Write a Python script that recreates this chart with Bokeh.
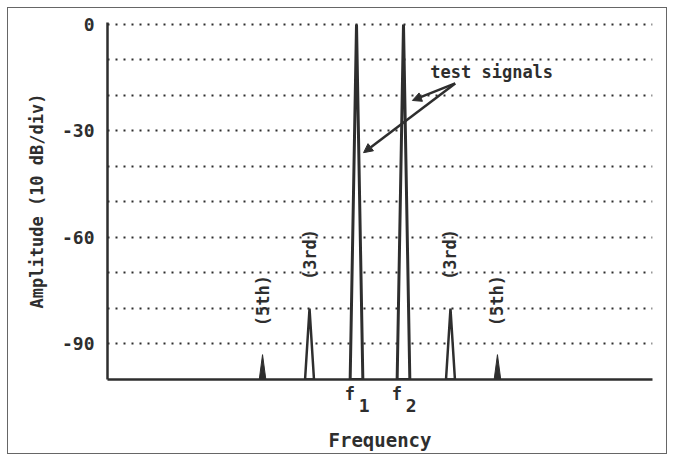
import math
from bokeh.plotting import figure
from bokeh.models import FixedTicker, Arrow, NormalHead, LinearAxis
from bokeh.core.properties import value
from bokeh.embed import file_html
from bokeh.resources import INLINE

# ---- data ----
# relative frequency positions: 3f1-2f2, 2f1-f2, f1, f2, 2f2-f1, 3f2-2f1
tone_freqs = [5, 6]
tone_amps = [0, 0]
tone_names = ["f", "f"]
tone_subs = ["1", "2"]

harm_freqs = [3, 4, 7, 8]
harm_amps = [-93, -80, -80, -93]
harm_labels = ["(5th)", "(3rd)", "(3rd)", "(5th)"]

ytick_vals = [0, -30, -60, -90]
ytick_labels = ["0", "-30", "-60", "-90"]
grid_vals = [0, -10, -20, -30, -40, -50, -60, -70, -80, -90]

note_text = "test signals"
note_pos = (6.57, -13.5)
arrow_tail = (7.1, -16.6)
arrow_heads_x = [6.19, 5.15]
arrow_heads_y = [-21.4, -36.1]

x_label = "Frequency"
y_label = "Amplitude (10 dB/div)"

FLOOR = -100
INK = "#2e2e2e"
FONT = "DejaVu Sans Mono"

p = figure(width=660, height=447, x_range=(-0.3, 11.3), y_range=(FLOOR, 0.56),
           output_backend="svg", toolbar_location=None,
           min_border_left=99, min_border_right=16, min_border_top=14, min_border_bottom=76)
p.outline_line_color = None
p.background_fill_color = "white"
p.border_fill_color = "white"
p.styles = {"border": "1px solid #666", "margin-left": "7px", "margin-top": "7px"}

# grid
p.xgrid.visible = False
p.ygrid.ticker = FixedTicker(ticks=grid_vals)
p.ygrid.grid_line_color = INK
p.ygrid.grid_line_width = 2
p.ygrid.grid_line_dash = "2 6"

# axes
for ax in (p.xaxis[0], p.yaxis[0]):
    ax.axis_line_color = INK
    ax.axis_line_width = 2.5
    ax.major_tick_line_color = None
    ax.minor_tick_line_color = None
    ax.major_tick_out = 0
    ax.major_tick_in = 0

p.yaxis.ticker = FixedTicker(ticks=ytick_vals)
p.yaxis.major_label_overrides = {v: s for v, s in zip(ytick_vals, ytick_labels)}
p.yaxis.major_label_text_font = FONT
p.yaxis.major_label_text_font_style = "bold"
p.yaxis.major_label_text_font_size = "18px"
p.yaxis.major_label_text_color = INK
p.yaxis.major_label_standoff = 13
p.yaxis.axis_label = y_label
p.yaxis.axis_label_text_font = FONT
p.yaxis.axis_label_text_font_style = "bold"
p.yaxis.axis_label_text_font_size = "17px"
p.yaxis.axis_label_text_color = INK
p.yaxis.axis_label_standoff = 12

# x axis: "f" labels on the first axis, subscripts on a second one below
f_ticks = [round(f - 0.14, 3) for f in tone_freqs]
s_ticks = [round(f + 0.165, 3) for f in tone_freqs]
xa = p.xaxis[0]
xa.ticker = FixedTicker(ticks=f_ticks)
xa.major_label_overrides = {t: n for t, n in zip(f_ticks, tone_names)}
xa.major_label_text_font = FONT
xa.major_label_text_font_style = "bold"
xa.major_label_text_font_size = "17px"
xa.major_label_text_color = INK
xa.major_label_standoff = 4

xb = LinearAxis(ticker=FixedTicker(ticks=s_ticks),
                major_label_overrides={t: s for t, s in zip(s_ticks, tone_subs)},
                axis_line_color=None, major_tick_line_color=None,
                minor_tick_line_color=None, major_tick_out=0, major_tick_in=0,
                major_label_text_font=FONT, major_label_text_font_style="bold",
                major_label_text_font_size="18px", major_label_text_color=INK,
                major_label_standoff=-8,
                axis_label=x_label, axis_label_text_font=FONT,
                axis_label_text_font_style="bold", axis_label_text_font_size="19px",
                axis_label_text_color=INK, axis_label_standoff=14)
p.add_layout(xb, "below")

# peaks as thin triangles
def tri(freqs, amps, hw):
    xs = [[f - hw, f, f + hw] for f in freqs]
    ys = [[FLOOR, a, FLOOR] for a in amps]
    return xs, ys

xs, ys = tri(tone_freqs, tone_amps, 0.135)
p.patches(xs, ys, fill_color="white", line_color=INK, line_width=3)
h3 = [(f, a) for f, a, l in zip(harm_freqs, harm_amps, harm_labels) if "3rd" in l]
h5 = [(f, a) for f, a, l in zip(harm_freqs, harm_amps, harm_labels) if "5th" in l]
xs, ys = tri([f for f, _ in h3], [a for _, a in h3], 0.095)
p.patches(xs, ys, fill_color="white", line_color=INK, line_width=2.5)
xs, ys = tri([f for f, _ in h5], [a for _, a in h5], 0.07)
p.patches(xs, ys, fill_color=INK, line_color=INK, line_width=1)

# harmonic labels (rotated)
p.text(x=harm_freqs, y=[a + 8 for a in harm_amps], text=harm_labels, angle=math.pi / 2,
       text_align="left", text_baseline="middle", text_font=value(FONT),
       text_font_style="bold", text_font_size="17px", text_color=INK)

# annotation
p.text(x=[note_pos[0]], y=[note_pos[1]], text=[note_text], text_align="left",
       text_baseline="middle", text_font=value(FONT), text_font_style="bold",
       text_font_size="17px", text_color=INK)
for hx, hy in zip(arrow_heads_x, arrow_heads_y):
    p.add_layout(Arrow(end=NormalHead(size=9, fill_color=INK, line_color=INK),
                       x_start=arrow_tail[0], y_start=arrow_tail[1], x_end=hx, y_end=hy,
                       line_color=INK, line_width=2.5))

open("out.html", "w").write(file_html(p, INLINE))
